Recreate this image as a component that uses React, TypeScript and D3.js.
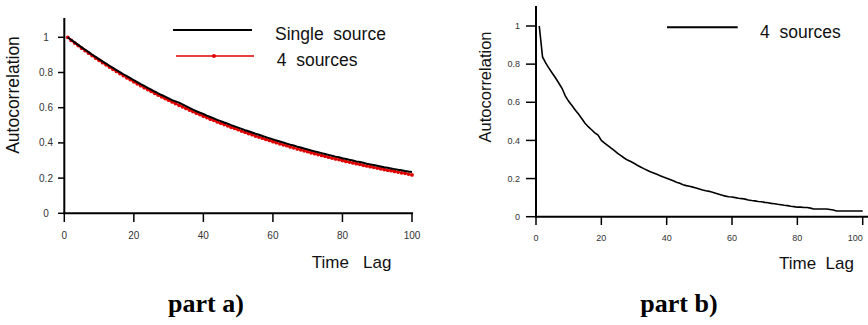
import React from 'react';
import * as d3 from 'd3';

// lags 1..100
const lags: number[] = d3.range(1, 101);

// part a) single source (black)
const singleSource: number[] = [
  1.000, 0.985, 0.971, 0.957, 0.943, 0.929, 0.916, 0.902, 0.889, 0.876,
  0.863, 0.851, 0.838, 0.826, 0.814, 0.802, 0.790, 0.779, 0.768, 0.756,
  0.745, 0.734, 0.724, 0.713, 0.703, 0.692, 0.682, 0.672, 0.663, 0.653,
  0.643, 0.636, 0.629, 0.619, 0.609, 0.599, 0.589, 0.580, 0.572, 0.564,
  0.555, 0.547, 0.539, 0.531, 0.524, 0.516, 0.509, 0.501, 0.494, 0.487,
  0.480, 0.472, 0.466, 0.459, 0.452, 0.446, 0.439, 0.433, 0.426, 0.420,
  0.414, 0.408, 0.402, 0.396, 0.390, 0.385, 0.379, 0.374, 0.368, 0.363,
  0.357, 0.352, 0.347, 0.342, 0.337, 0.332, 0.327, 0.322, 0.318, 0.313,
  0.309, 0.304, 0.300, 0.295, 0.291, 0.287, 0.282, 0.278, 0.274, 0.270,
  0.266, 0.262, 0.259, 0.255, 0.251, 0.247, 0.244, 0.240, 0.237, 0.235,
];

// part a) 4 sources (red, with markers)
const fourSourcesA: number[] = [
  1.000, 0.982, 0.967, 0.953, 0.938, 0.924, 0.910, 0.896, 0.882, 0.869,
  0.856, 0.844, 0.831, 0.818, 0.806, 0.794, 0.782, 0.770, 0.759, 0.747,
  0.736, 0.725, 0.714, 0.703, 0.693, 0.682, 0.672, 0.662, 0.652, 0.643,
  0.633, 0.624, 0.614, 0.605, 0.596, 0.587, 0.578, 0.569, 0.561, 0.552,
  0.544, 0.535, 0.528, 0.519, 0.512, 0.504, 0.497, 0.489, 0.482, 0.475,
  0.467, 0.460, 0.453, 0.447, 0.439, 0.433, 0.427, 0.420, 0.414, 0.407,
  0.401, 0.395, 0.389, 0.384, 0.377, 0.372, 0.366, 0.361, 0.355, 0.350,
  0.344, 0.339, 0.334, 0.329, 0.324, 0.319, 0.314, 0.309, 0.305, 0.300,
  0.295, 0.291, 0.286, 0.282, 0.278, 0.273, 0.269, 0.265, 0.261, 0.257,
  0.253, 0.249, 0.245, 0.242, 0.238, 0.234, 0.230, 0.227, 0.223, 0.218,
];

// part b) 4 sources (black)
const fourSourcesB: number[] = [
  1.000, 0.838, 0.805, 0.778, 0.752, 0.727, 0.700, 0.672, 0.632, 0.605,
  0.583, 0.560, 0.538, 0.515, 0.490, 0.472, 0.456, 0.440, 0.428, 0.400,
  0.386, 0.373, 0.360, 0.347, 0.332, 0.320, 0.308, 0.297, 0.289, 0.280,
  0.270, 0.261, 0.252, 0.244, 0.236, 0.229, 0.222, 0.215, 0.208, 0.202,
  0.195, 0.188, 0.181, 0.175, 0.168, 0.163, 0.160, 0.155, 0.150, 0.145,
  0.140, 0.136, 0.133, 0.128, 0.123, 0.118, 0.113, 0.108, 0.105, 0.103,
  0.100, 0.097, 0.095, 0.092, 0.088, 0.085, 0.083, 0.080, 0.078, 0.075,
  0.073, 0.070, 0.068, 0.065, 0.063, 0.060, 0.058, 0.055, 0.053, 0.050,
  0.050, 0.048, 0.048, 0.045, 0.040, 0.040, 0.040, 0.040, 0.040, 0.038,
  0.035, 0.030, 0.030, 0.030, 0.030, 0.030, 0.030, 0.030, 0.030, 0.030,
];

const xTicks = [0, 20, 40, 60, 80, 100];
const yTicks = [0, 0.2, 0.4, 0.6, 0.8, 1];

const SANS = 'Liberation Sans, Arial, sans-serif';
const SERIF = 'Liberation Serif, Times New Roman, serif';

const fmt = (v: number) => String(+v.toFixed(1));

type Pt = [number, number];

const App: React.FC = () => {
  // part a) scales
  const xa = d3.scaleLinear().domain([0, 100]).range([64.3, 412]);
  const ya = d3.scaleLinear().domain([0, 1]).range([213.3, 37.3]);
  // part b) scales
  const xb = d3.scaleLinear().domain([0, 100]).range([536, 862.7]);
  const yb = d3.scaleLinear().domain([0, 1]).range([216.7, 26]);

  const lineA = d3.line<Pt>().x(d => xa(d[0])).y(d => ya(d[1]));
  const lineB = d3.line<Pt>().x(d => xb(d[0])).y(d => yb(d[1]));

  const singlePts: Pt[] = lags.map((l, i) => [l, singleSource[i]]);
  const redPts: Pt[] = lags.map((l, i) => [l, fourSourcesA[i]]);
  const bPts: Pt[] = lags.map((l, i) => [l, fourSourcesB[i]]);

  return (
    <svg
      width={868}
      height={325}
      style={{ position: 'absolute', left: 0, top: 0, background: '#fff' }}
    >
      {/* ---------- part a) ---------- */}
      <g>
        <path d={lineA(redPts) || ''} fill="none" stroke="#e00000" strokeWidth={1.5} />
        {redPts.map((d, i) => (
          <circle key={i} cx={xa(d[0])} cy={ya(d[1])} r={1.9} fill="#e00000" />
        ))}
        <path d={lineA(singlePts) || ''} fill="none" stroke="#000" strokeWidth={2} />

        {/* axes */}
        <line x1={xa(0)} x2={xa(0)} y1={18} y2={ya(0)} stroke="#000" strokeWidth={2} />
        <line x1={xa(0) - 1} x2={xa(100) + 1} y1={ya(0)} y2={ya(0)} stroke="#000" strokeWidth={2} />
        {yTicks.map(t => (
          <g key={t}>
            <line x1={58} x2={xa(0)} y1={ya(t)} y2={ya(t)} stroke="#000" strokeWidth={1.5} />
            <text x={46} y={ya(t)} dy="0.35em" textAnchor="middle" fontSize={10} fontFamily={SANS} fill="#333">
              {fmt(t)}
            </text>
          </g>
        ))}
        {xTicks.map(t => (
          <g key={t}>
            <line x1={xa(t)} x2={xa(t)} y1={ya(0)} y2={222} stroke="#000" strokeWidth={1.5} />
            <text x={xa(t)} y={235} dy="0.35em" textAnchor="middle" fontSize={10} fontFamily={SANS} fill="#333">
              {t}
            </text>
          </g>
        ))}
        <text
          transform={`translate(13,95) rotate(-90)`}
          textAnchor="middle"
          dy="0.35em"
          fontSize={17.5}
          fontFamily={SANS}
          fill="#111"
        >
          Autocorrelation
        </text>
        <text x={311.7} y={262} dy="0.35em" fontSize={17} fontFamily={SANS} fill="#111" style={{ whiteSpace: 'pre' }}>
          {'Time   Lag'}
        </text>

        {/* legend */}
        <line x1={173} x2={252} y1={30} y2={30} stroke="#000" strokeWidth={2} />
        <text x={275} y={34} dy="0.35em" fontSize={17.5} fontFamily={SANS} fill="#111" style={{ whiteSpace: 'pre' }}>
          {'Single  source'}
        </text>
        <line x1={176} x2={254} y1={56} y2={56} stroke="#e00000" strokeWidth={1.5} />
        <circle cx={214} cy={56} r={1.9} fill="#e00000" />
        <text x={276.7} y={60} dy="0.35em" fontSize={17.5} fontFamily={SANS} fill="#111" style={{ whiteSpace: 'pre' }}>
          {'4  sources'}
        </text>

        <text x={206} y={303} dy="0.35em" textAnchor="middle" fontSize={26} fontWeight="bold" fontFamily={SERIF} fill="#000">
          part a)
        </text>
      </g>

      {/* ---------- part b) ---------- */}
      <g>
        <path d={lineB(bPts) || ''} fill="none" stroke="#000" strokeWidth={1.6} />

        <line x1={xb(0)} x2={xb(0)} y1={6} y2={yb(0)} stroke="#000" strokeWidth={2} />
        <line x1={xb(0) - 1} x2={868} y1={yb(0)} y2={yb(0)} stroke="#000" strokeWidth={2} />
        {yTicks.map(t => (
          <g key={t}>
            <line x1={526} x2={xb(0)} y1={yb(t)} y2={yb(t)} stroke="#000" strokeWidth={1.5} />
            <text x={520} y={yb(t)} dy="0.35em" textAnchor="end" fontSize={9} fontFamily={SANS} fill="#333">
              {fmt(t)}
            </text>
          </g>
        ))}
        {xTicks.map(t => (
          <g key={t}>
            <line x1={xb(t)} x2={xb(t)} y1={yb(0)} y2={225} stroke="#000" strokeWidth={1.5} />
            <text
              x={Math.min(xb(t), 867)}
              y={237.7}
              dy="0.35em"
              textAnchor={xb(t) > 855 ? 'end' : 'middle'}
              fontSize={9}
              fontFamily={SANS}
              fill="#333"
            >
              {t}
            </text>
          </g>
        ))}
        <text
          transform={`translate(485.7,87) rotate(-90)`}
          textAnchor="middle"
          dy="0.35em"
          fontSize={16.5}
          fontFamily={SANS}
          fill="#111"
        >
          Autocorrelation
        </text>
        <text x={779} y={263} dy="0.35em" fontSize={17} fontFamily={SANS} fill="#111" style={{ whiteSpace: 'pre' }}>
          {'Time  Lag'}
        </text>

        <line x1={667} x2={737.7} y1={27.3} y2={27.3} stroke="#000" strokeWidth={2} />
        <text x={760} y={31.7} dy="0.35em" fontSize={17.5} fontFamily={SANS} fill="#111" style={{ whiteSpace: 'pre' }}>
          {'4  sources'}
        </text>

        <text x={679} y={303} dy="0.35em" textAnchor="middle" fontSize={26} fontWeight="bold" fontFamily={SERIF} fill="#000">
          part b)
        </text>
      </g>
    </svg>
  );
};

export default App;
